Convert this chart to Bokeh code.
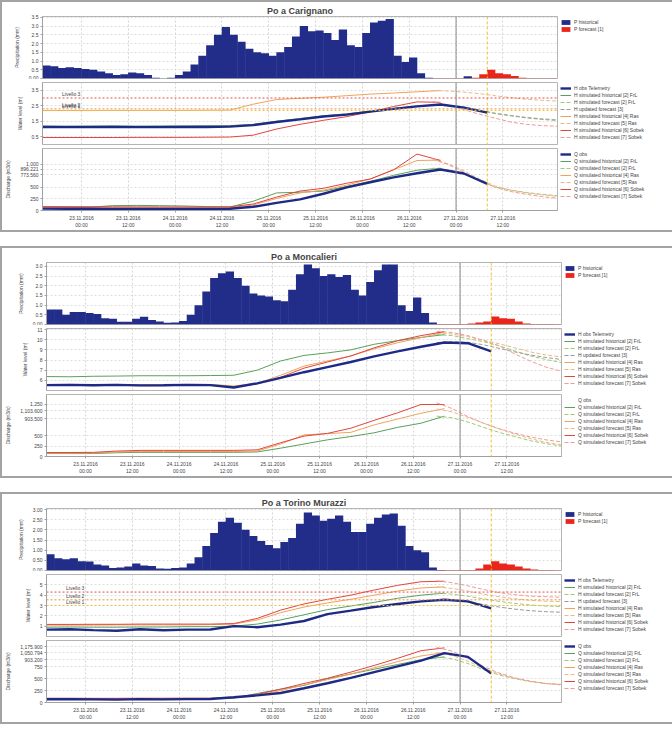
from bokeh.plotting import figure
from bokeh.models import Range1d, FixedTicker, Span, Label, Legend, LegendItem
from bokeh.layouts import column
from bokeh.embed import file_html
from bokeh.resources import INLINE

FONT = "Liberation Sans"

# ---------------- time axis (hours from the left edge of the window) ----------------
T_OBS = [0, 6, 12, 18, 24, 30, 36, 42, 48, 54, 60, 66, 72, 78, 84, 90, 96, 102, 108, 114]
T_SIM = [0, 6, 12, 18, 24, 30, 36, 42, 48, 54, 60, 66, 72, 78, 84, 90, 96, 102]
T_FC = [100, 104, 108, 112, 116, 120, 124, 128, 132]
T_P_HIST = [0, 2, 4, 6, 8, 10, 12, 14, 16, 18, 20, 22, 24, 26, 28, 30, 32, 34, 36, 38,
            40, 42, 44, 46, 48, 50, 52, 54, 56, 58, 60, 62, 64, 66, 68, 70, 72, 74, 76, 78,
            80, 82, 84, 86, 88, 90, 92, 94, 96, 98, 100, 102, 104, 106, 108, 110]
T_P_FC = [100, 102, 104, 106, 108, 110, 112, 114, 116, 118, 120, 122, 124, 126, 128, 130]
P_STEP = 2
T_START, T_END = 0, 132
T_NOW = 106
T_FC_START = 114
X_TICKS = [10, 22, 34, 46, 58, 70, 82, 94, 106, 118]
X_LABELS = ["23.11.2016\n00:00", "23.11.2016\n12:00", "24.11.2016\n00:00", "24.11.2016\n12:00",
            "25.11.2016\n00:00", "25.11.2016\n12:00", "26.11.2016\n00:00", "26.11.2016\n12:00",
            "27.11.2016\n00:00", "27.11.2016\n12:00"]

# ---------------- legends ----------------
P_LABELS = ["P historical", "P forecast [1]"]
H_LABELS = ["H obs Telemetry", "H simulated historical [2] FrL", "H simulated forecast [2] FrL",
            "H updated forecast [3]", "H simulated historical [4] Ras", "H simulated forecast [5] Ras",
            "H simulated historical [6] Sobek", "H simulated forecast [7] Sobek"]
Q_LABELS = ["Q obs", "Q simulated historical [2] FrL", "Q simulated forecast [2] FrL",
            "Q simulated historical [4] Ras", "Q simulated forecast [5] Ras",
            "Q simulated historical [6] Sobek", "Q simulated forecast [7] Sobek"]
THR_NAMES = ["Livello 1", "Livello 2", "Livello 3"]

# ---------------- Po a Carignano ----------------
CAR_TITLE = "Po a Carignano"
CAR_P_HIST = [0.75, 0.7, 0.6, 0.65, 0.6, 0.55, 0.5, 0.4, 0.3, 0.2,
              0.25, 0.35, 0.3, 0.2, 0.05, 0.0, 0.05, 0.2, 0.4, 0.8,
              1.3, 1.9, 2.5, 2.95, 2.5, 2.1, 1.7, 1.5, 1.45, 1.3,
              1.5, 1.8, 2.4, 3.0, 2.7, 2.75, 2.6, 2.2, 2.8, 1.9,
              1.8, 2.6, 3.2, 3.3, 3.4, 1.3, 0.95, 1.2, 0.3, 0.05,
              0.0, 0.0, 0.0, 0.0, 0.13, 0.0]
CAR_P_FC = [0.02, 0.02, 0.02, 0.02, 0.02, 0.05, 0.25, 0.5, 0.3, 0.25, 0.15, 0.05, 0.02, 0.02, 0.02, 0.01]
CAR_P_RANGE = (0, 3.55)
CAR_P_TICKS = [0, 0.5, 1.0, 1.5, 2.0, 2.5, 3.0, 3.5]
CAR_P_TICKLABELS = ["0.00", "0.5", "1.0", "1.5", "2.0", "2.5", "3.0", "3.5"]

CAR_H_OBS = [1.13, 1.12, 1.12, 1.13, 1.12, 1.12, 1.13, 1.13, 1.15, 1.25, 1.45, 1.62, 1.81, 1.93, 2.12, 2.3, 2.46, 2.58, 2.38, 2.06]
CAR_H_SIM2 = [1.19, 1.19, 1.2, 1.2, 1.19, 1.2, 1.2, 1.21, 1.22, 1.3, 1.5, 1.68, 1.85, 1.98, 2.15, 2.32, 2.48, 2.55]
CAR_H_FC2 = [2.56, 2.5, 2.38, 2.2, 2.02, 1.88, 1.75, 1.66, 1.6]
CAR_H_UPD3 = [2.58, 2.55, 2.42, 2.22, 2.0, 1.85, 1.72, 1.62, 1.55]
CAR_H_SIM4 = [2.19, 2.19, 2.19, 2.2, 2.2, 2.2, 2.2, 2.21, 2.22, 2.6, 2.9, 2.98, 3.05, 3.15, 3.25, 3.32, 3.4, 3.48]
CAR_H_FC5 = [3.48, 3.45, 3.38, 3.28, 3.15, 3.02, 2.92, 2.85, 2.8]
CAR_H_SIM6 = [0.45, 0.45, 0.45, 0.45, 0.46, 0.46, 0.46, 0.47, 0.48, 0.6, 1.0, 1.3, 1.56, 1.8, 2.1, 2.45, 2.75, 2.72]
CAR_H_FC7 = [2.78, 2.55, 2.25, 1.95, 1.7, 1.45, 1.3, 1.22, 1.18]
CAR_H_RANGE = (0, 4.0)
CAR_H_TICKS = [0.5, 1.5, 2.5, 3.5]
CAR_H_TICKLABELS = ["0.5", "1.5", "2.5", "3.5"]
CAR_THR = [2.2, 2.3, 3.0]

CAR_Q_OBS = [40, 38, 37, 36, 36, 35, 35, 35, 38, 80, 165, 240, 362, 500, 610, 715, 805, 885, 800, 574]
CAR_Q_SIM2 = [50, 55, 70, 105, 110, 105, 98, 85, 75, 200, 380, 395, 420, 520, 630, 760, 870, 915]
CAR_Q_FC2 = [915, 880, 790, 640, 510, 440, 390, 350, 320]
CAR_Q_SIM4 = [60, 60, 58, 58, 57, 57, 56, 57, 62, 120, 260, 380, 440, 550, 680, 880, 1080, 1090]
CAR_Q_FC5 = [1095, 1010, 860, 680, 530, 440, 380, 340, 305]
CAR_Q_SIM6 = [85, 84, 82, 80, 78, 77, 76, 76, 80, 140, 290, 420, 480, 590, 680, 880, 1220, 1080]
CAR_Q_FC7 = [1120, 990, 830, 650, 500, 410, 350, 300, 265]
CAR_Q_RANGE = (0, 1340)
CAR_Q_TICKS = [0, 250, 500, 773.56, 896.221, 1000]
CAR_Q_TICKLABELS = ["0", "250", "500", "773.560", "896.221", "1,000"]

# ---------------- Po a Moncalieri ----------------
MON_TITLE = "Po a Moncalieri"
MON_P_HIST = [0.77, 0.77, 0.5, 0.64, 0.64, 0.6, 0.54, 0.32, 0.3, 0.14,
              0.14, 0.3, 0.4, 0.23, 0.15, 0.09, 0.1, 0.18, 0.5, 1.0,
              1.7, 2.4, 2.65, 2.73, 2.4, 2.0, 1.6, 1.5, 1.45, 1.25,
              1.2, 1.8, 2.6, 3.1, 2.9, 2.5, 2.6, 2.45, 2.55, 1.8,
              1.5, 2.2, 2.8, 3.1, 3.1, 1.0, 0.7, 1.4, 0.6, 0.1,
              0.0, 0.0, 0.0, 0.0, 0.0, 0.0]
MON_P_FC = [0.02, 0.02, 0.02, 0.02, 0.05, 0.1, 0.15, 0.41, 0.32, 0.3, 0.15, 0.05, 0.02, 0.02, 0.02, 0.01]
MON_P_RANGE = (0, 3.2)
MON_P_TICKS = [0, 0.5, 1.0, 1.5, 2.0, 2.5, 3.0]
MON_P_TICKLABELS = ["0.00", "0.5", "1.0", "1.5", "2.0", "2.5", "3.0"]

MON_H_OBS = [5.53, 5.55, 5.52, 5.55, 5.5, 5.52, 5.55, 5.53, 5.3, 5.7, 6.25, 6.8, 7.3, 7.8, 8.35, 8.85, 9.3, 9.72, 9.65, 8.85]
MON_H_SIM2 = [6.37, 6.35, 6.4, 6.42, 6.45, 6.45, 6.45, 6.47, 6.5, 7.0, 7.9, 8.45, 8.7, 9.0, 9.55, 9.9, 10.22, 10.5]
MON_H_FC2 = [10.5, 10.4, 10.1, 9.8, 9.4, 8.9, 8.4, 8.05, 7.75]
MON_H_UPD3 = [9.72, 9.8, 9.75, 9.5, 9.15, 8.8, 8.5, 8.25, 8.05]
MON_H_SIM4 = [5.6, 5.6, 5.58, 5.6, 5.57, 5.58, 5.6, 5.6, 5.45, 5.7, 6.5, 7.4, 7.9, 8.4, 9.1, 9.7, 10.2, 10.75]
MON_H_FC5 = [10.7, 10.55, 10.3, 9.95, 9.6, 9.2, 8.8, 8.5, 8.3]
MON_H_SIM6 = [5.5, 5.5, 5.48, 5.5, 5.47, 5.48, 5.5, 5.5, 5.35, 5.65, 6.3, 7.2, 7.8, 8.4, 9.2, 9.9, 10.4, 10.8]
MON_H_FC7 = [10.83, 10.7, 10.4, 9.9, 9.4, 8.6, 7.9, 7.3, 6.9]
MON_H_RANGE = (5.0, 11.1)
MON_H_TICKS = [6, 7, 8, 9, 10, 11]
MON_H_TICKLABELS = ["6", "7", "8", "9", "10", "11"]
MON_THR = []

MON_Q_OBS = []
MON_Q_SIM2 = [70, 70, 72, 90, 100, 100, 100, 100, 100, 110, 200, 300, 400, 480, 570, 700, 800, 970]
MON_Q_FC2 = [970, 930, 830, 700, 580, 480, 380, 310, 250]
MON_Q_SIM4 = [80, 80, 85, 110, 120, 120, 120, 120, 118, 130, 300, 520, 550, 580, 760, 900, 1040, 1150]
MON_Q_FC5 = [1140, 1070, 940, 800, 660, 540, 430, 340, 280]
MON_Q_SIM6 = [96, 96, 100, 130, 147, 147, 147, 147, 147, 160, 330, 490, 555, 680, 870, 1050, 1250, 1250]
MON_Q_FC7 = [1290, 1150, 960, 800, 670, 560, 470, 400, 350]
MON_Q_RANGE = (0, 1490)
MON_Q_TICKS = [0, 250, 500, 903.5, 1103.6, 1250]
MON_Q_TICKLABELS = ["0", "250", "500", "903.500", "1,103.600", "1,250"]

# ---------------- Po a Torino Murazzi ----------------
TOR_TITLE = "Po a Torino Murazzi"
TOR_P_HIST = [0.8, 0.6, 0.55, 0.6, 0.45, 0.44, 0.3, 0.25, 0.12, 0.15,
              0.2, 0.35, 0.25, 0.22, 0.1, 0.08, 0.12, 0.15, 0.35, 0.65,
              1.2, 1.85, 2.4, 2.6, 2.35, 2.0, 1.7, 1.45, 1.25, 1.1,
              1.4, 1.6, 2.3, 2.85, 2.7, 2.45, 2.55, 2.7, 2.4, 1.9,
              1.9, 2.3, 2.6, 2.75, 2.8, 2.2, 1.2, 1.0, 0.9, 0.15,
              0.02, 0.0, 0.0, 0.0, 0.0, 0.0]
TOR_P_FC = [0.02, 0.02, 0.02, 0.02, 0.02, 0.1, 0.3, 0.45, 0.35, 0.3, 0.2, 0.1, 0.05, 0.02, 0.02, 0.01]
TOR_P_RANGE = (0, 3.05)
TOR_P_TICKS = [0, 0.5, 1.0, 1.5, 2.0, 2.5, 3.0]
TOR_P_TICKLABELS = ["0.00", "0.50", "1.00", "1.50", "2.00", "2.50", "3.00"]

TOR_H_OBS = [0.67, 0.7, 0.62, 0.55, 0.7, 0.6, 0.67, 0.68, 1.0, 0.9, 1.15, 1.5, 2.17, 2.5, 2.85, 3.15, 3.4, 3.55, 3.4, 2.73]
TOR_H_SIM2 = [0.9, 0.92, 0.9, 0.9, 0.92, 0.92, 0.95, 0.95, 1.0, 1.2, 1.6, 2.1, 2.6, 2.95, 3.3, 3.7, 4.0, 4.2]
TOR_H_FC2 = [4.2, 4.1, 3.9, 3.65, 3.4, 3.2, 3.05, 2.95, 2.9]
TOR_H_UPD3 = [3.55, 3.5, 3.35, 3.1, 2.85, 2.65, 2.5, 2.4, 2.35]
TOR_H_SIM4 = [1.1, 1.1, 1.1, 1.12, 1.12, 1.12, 1.12, 1.15, 1.2, 1.6, 2.3, 2.85, 3.25, 3.6, 4.0, 4.4, 4.7, 4.8]
TOR_H_FC5 = [4.8, 4.65, 4.4, 4.1, 3.85, 3.65, 3.5, 3.42, 3.38]
TOR_H_SIM6 = [1.17, 1.17, 1.18, 1.18, 1.2, 1.2, 1.2, 1.2, 1.25, 1.75, 2.55, 3.15, 3.6, 4.0, 4.5, 4.95, 5.3, 5.35]
TOR_H_FC7 = [5.4, 5.2, 4.9, 4.55, 4.25, 4.05, 3.9, 3.85, 3.8]
TOR_H_RANGE = (0, 6.0)
TOR_H_TICKS = [1, 2, 3, 4, 5]
TOR_H_TICKLABELS = ["1", "2", "3", "4", "5"]
TOR_THR = [3.0, 3.55, 4.3]

TOR_Q_OBS = [69, 72, 66, 60, 70, 66, 72, 75, 110, 150, 200, 300, 405, 520, 640, 760, 880, 1040, 960, 611]
TOR_Q_SIM2 = [75, 78, 76, 75, 80, 82, 85, 85, 95, 190, 280, 360, 500, 600, 700, 800, 900, 960]
TOR_Q_FC2 = [960, 920, 820, 690, 580, 500, 440, 400, 380]
TOR_Q_SIM4 = [80, 80, 80, 80, 82, 82, 84, 84, 90, 150, 250, 370, 480, 600, 730, 860, 980, 1050]
TOR_Q_FC5 = [1050, 990, 870, 720, 600, 510, 440, 400, 380]
TOR_Q_SIM6 = [90, 90, 88, 88, 90, 90, 92, 92, 100, 170, 280, 400, 510, 640, 780, 930, 1090, 1150]
TOR_Q_FC7 = [1160, 1080, 930, 760, 620, 520, 450, 400, 370]
TOR_Q_RANGE = (0, 1305)
TOR_Q_TICKS = [0, 250, 500, 750, 903.2, 1050.794, 1175.9]
TOR_Q_TICKLABELS = ["0", "250", "500", "750", "903.200", "1,050.794", "1,175.900"]

# ---------------- styles ----------------
C_P_HIST = "#222d8a"
C_P_FC = "#e8261b"
C_OBS = "#1d2b86"
C_SIM2 = "#58a05c"
C_FC2 = "#9ccc72"
C_UPD3 = "#9a9a9a"
C_SIM4 = "#eea35c"
C_FC5 = "#e9b98a"
C_SIM6 = "#e2443e"
C_FC7 = "#f29a9a"
THR_COLORS = ["#e8c547", "#f0913a", "#e0504a"]

FW = 515
FH = 62
LEFT = 40
XR = Range1d(T_START, T_END)


def new_fig(yr, yticks, ylabels, ylab, title=None, bottom=False):
    p = figure(x_range=XR, y_range=Range1d(*yr), frame_width=FW, frame_height=FH,
               x_axis_location="below" if bottom else None, title=title,
               output_backend="svg", toolbar_location=None,
               min_border_left=LEFT, min_border_right=2, min_border_top=2, min_border_bottom=1)
    p.outline_line_color = "#b4b4b4"
    p.background_fill_color = "white"
    p.border_fill_color = "white"
    p.xgrid.ticker = FixedTicker(ticks=X_TICKS)
    p.xgrid.grid_line_color = "#d4d4d4"
    p.xgrid.grid_line_dash = "2 2"
    p.ygrid.grid_line_color = "#dedede"
    p.ygrid.grid_line_dash = "2 2"
    ax = p.yaxis[0]
    ax.ticker = FixedTicker(ticks=yticks)
    ax.major_label_overrides = {t: l for t, l in zip(yticks, ylabels)}
    ax.axis_label = ylab
    ax.major_label_text_font_size = "5px"
    ax.major_label_text_font = FONT
    ax.axis_label_text_font_size = "5px"
    ax.axis_label_text_font = FONT
    ax.axis_label_text_font_style = "normal"
    ax.axis_label_standoff = 6
    ax.major_label_standoff = 2
    ax.major_tick_out = 2
    ax.major_tick_in = 0
    ax.minor_tick_line_color = None
    ax.axis_line_color = "#a0a0a0"
    ax.major_tick_line_color = "#a0a0a0"
    if bottom:
        xa = p.xaxis[0]
        xa.ticker = FixedTicker(ticks=X_TICKS)
        xa.major_label_overrides = {t: l for t, l in zip(X_TICKS, X_LABELS)}
        xa.major_label_text_font_size = "5px"
        xa.major_label_text_font = FONT
        xa.major_label_standoff = 2
        xa.major_tick_out = 2
        xa.major_tick_in = 0
        xa.minor_tick_line_color = None
        xa.axis_line_color = "#a0a0a0"
        xa.major_tick_line_color = "#a0a0a0"
    if title is not None:
        p.title.text_font = FONT
        p.title.text_font_size = "9px"
        p.title.text_font_style = "bold"
        p.title.align = "center"
        p.title.standoff = 2
    p.add_layout(Span(location=T_NOW, dimension="height", line_color="#8a8a8a", line_width=1))
    p.add_layout(Span(location=T_FC_START, dimension="height", line_color="#f1c232",
                      line_width=1, line_dash="3 2"))
    return p


def add_legend(p, labels, renderers):
    items = [LegendItem(label=l, renderers=[r]) for l, r in zip(labels, renderers)]
    lg = Legend(items=items, location="top_left", label_text_font_size="5px",
                label_text_font=FONT, glyph_width=11, glyph_height=6, label_height=6,
                label_standoff=3, spacing=1, padding=2, margin=3,
                border_line_color=None, background_fill_alpha=0)
    p.add_layout(lg, "right")


def panel(title, p_hist, p_fc, p_range, p_ticks, p_tl,
          h_obs, h_sim2, h_fc2, h_upd3, h_sim4, h_fc5, h_sim6, h_fc7, h_range, h_ticks, h_tl, thr,
          q_obs, q_sim2, q_fc2, q_sim4, q_fc5, q_sim6, q_fc7, q_range, q_ticks, q_tl):
    # precipitation (step bars, slightly overlapping so they read as a filled profile)
    pp = new_fig(p_range, p_ticks, p_tl, "Precipitation (mm)", title=title)
    r1 = pp.vbar(x=[t + P_STEP / 2 for t in T_P_HIST], top=p_hist, width=P_STEP * 1.06,
                 fill_color=C_P_HIST, line_color=None)
    r2 = pp.vbar(x=[t + P_STEP / 2 for t in T_P_FC], top=p_fc, width=P_STEP * 1.06,
                 fill_color=C_P_FC, line_color=None)
    add_legend(pp, P_LABELS, [r1, r2])

    # water level
    ph = new_fig(h_range, h_ticks, h_tl, "Water level (m)")
    for v, name, c in zip(thr, THR_NAMES, THR_COLORS):
        ph.add_layout(Span(location=v, dimension="width", line_color=c, line_width=1, line_dash="2 2"))
        ph.add_layout(Label(x=5, y=v, text=name, text_font_size="5px", text_font=FONT,
                            text_color="#444444", y_offset=1))
    rs = [
        ph.line(T_SIM, h_sim2, line_color=C_SIM2, line_width=1),
        ph.line(T_FC, h_fc2, line_color=C_FC2, line_width=1, line_dash="4 2"),
        ph.line(T_FC, h_upd3, line_color=C_UPD3, line_width=1, line_dash="4 2"),
        ph.line(T_SIM, h_sim4, line_color=C_SIM4, line_width=1),
        ph.line(T_FC, h_fc5, line_color=C_FC5, line_width=1, line_dash="4 2"),
        ph.line(T_SIM, h_sim6, line_color=C_SIM6, line_width=1),
        ph.line(T_FC, h_fc7, line_color=C_FC7, line_width=1, line_dash="4 2"),
    ]
    ro = ph.line(T_OBS[:len(h_obs)], h_obs, line_color=C_OBS, line_width=2.4)
    add_legend(ph, H_LABELS, [ro] + rs)

    # discharge
    pq = new_fig(q_range, q_ticks, q_tl, "Discharge (m3/s)", bottom=True)
    rs = [
        pq.line(T_SIM, q_sim2, line_color=C_SIM2, line_width=1),
        pq.line(T_FC, q_fc2, line_color=C_FC2, line_width=1, line_dash="4 2"),
        pq.line(T_SIM, q_sim4, line_color=C_SIM4, line_width=1),
        pq.line(T_FC, q_fc5, line_color=C_FC5, line_width=1, line_dash="4 2"),
        pq.line(T_SIM, q_sim6, line_color=C_SIM6, line_width=1),
        pq.line(T_FC, q_fc7, line_color=C_FC7, line_width=1, line_dash="4 2"),
    ]
    ro = pq.line(T_OBS[:len(q_obs)], q_obs, line_color=C_OBS, line_width=2.4)
    add_legend(pq, Q_LABELS, [ro] + rs)

    return column(pp, ph, pq, spacing=1,
                  styles={"border": "2px solid #a3a3a3", "background-color": "white"})


c1 = panel(CAR_TITLE, CAR_P_HIST, CAR_P_FC, CAR_P_RANGE, CAR_P_TICKS, CAR_P_TICKLABELS,
           CAR_H_OBS, CAR_H_SIM2, CAR_H_FC2, CAR_H_UPD3, CAR_H_SIM4, CAR_H_FC5, CAR_H_SIM6, CAR_H_FC7,
           CAR_H_RANGE, CAR_H_TICKS, CAR_H_TICKLABELS, CAR_THR,
           CAR_Q_OBS, CAR_Q_SIM2, CAR_Q_FC2, CAR_Q_SIM4, CAR_Q_FC5, CAR_Q_SIM6, CAR_Q_FC7,
           CAR_Q_RANGE, CAR_Q_TICKS, CAR_Q_TICKLABELS)
c2 = panel(MON_TITLE, MON_P_HIST, MON_P_FC, MON_P_RANGE, MON_P_TICKS, MON_P_TICKLABELS,
           MON_H_OBS, MON_H_SIM2, MON_H_FC2, MON_H_UPD3, MON_H_SIM4, MON_H_FC5, MON_H_SIM6, MON_H_FC7,
           MON_H_RANGE, MON_H_TICKS, MON_H_TICKLABELS, MON_THR,
           MON_Q_OBS, MON_Q_SIM2, MON_Q_FC2, MON_Q_SIM4, MON_Q_FC5, MON_Q_SIM6, MON_Q_FC7,
           MON_Q_RANGE, MON_Q_TICKS, MON_Q_TICKLABELS)
c3 = panel(TOR_TITLE, TOR_P_HIST, TOR_P_FC, TOR_P_RANGE, TOR_P_TICKS, TOR_P_TICKLABELS,
           TOR_H_OBS, TOR_H_SIM2, TOR_H_FC2, TOR_H_UPD3, TOR_H_SIM4, TOR_H_FC5, TOR_H_SIM6, TOR_H_FC7,
           TOR_H_RANGE, TOR_H_TICKS, TOR_H_TICKLABELS, TOR_THR,
           TOR_Q_OBS, TOR_Q_SIM2, TOR_Q_FC2, TOR_Q_SIM4, TOR_Q_FC5, TOR_Q_SIM6, TOR_Q_FC7,
           TOR_Q_RANGE, TOR_Q_TICKS, TOR_Q_TICKLABELS)

layout = column(c1, c2, c3, spacing=14)

with open("out.html", "w") as f:
    f.write(file_html(layout, INLINE, title="Po"))
